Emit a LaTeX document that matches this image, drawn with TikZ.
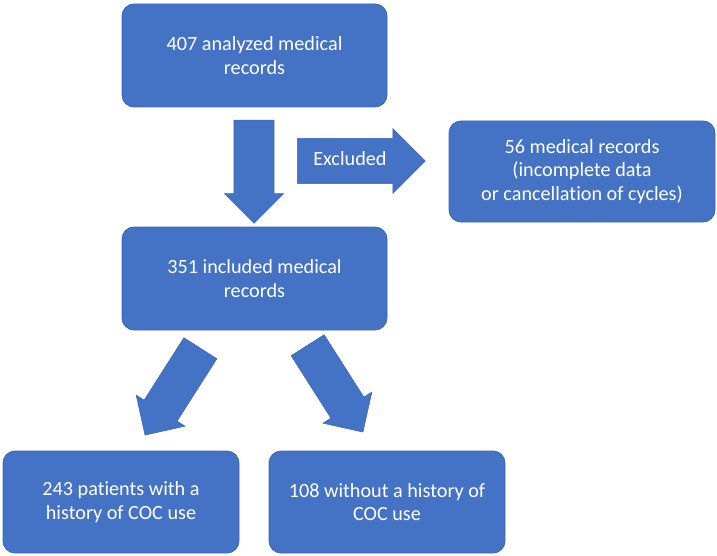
\documentclass[tikz,border=0pt]{standalone}
\usepackage{fontspec}
\setmainfont{Carlito}[Ligatures={NoCommon,NoRare}]
\usetikzlibrary{shapes.arrows}
\definecolor{boxblue}{HTML}{4472C4}
\definecolor{boxedge}{HTML}{3C67B8}
\begin{document}
\begin{tikzpicture}[x=1pt,y=-1pt,
  flowbox/.style={draw=boxedge, line width=0.8pt, fill=boxblue, rounded corners=12pt,
    text=white, align=center, font=\fontsize{20.2}{23.5}\selectfont, inner sep=0pt},
  blockarrow/.style={single arrow, fill=boxblue, draw=boxedge, line width=0.5pt,
    inner xsep=0pt, single arrow tip angle=90, anchor=tail,
    text height=0pt, text depth=0pt, text=white,
    font=\fontsize{20.2}{23.5}\selectfont}]
\useasboundingbox (0,0) rectangle (717,556);

\node[flowbox, minimum width=265pt, minimum height=103pt] (b1) at (254.5,55.5)
  {407 analyzed medical\\records};
\node[flowbox, minimum width=266pt, minimum height=101pt] (b2) at (582,171.5)
  {56 medical records\\(incomplete data\\or cancellation of cycles)};
\node[flowbox, minimum width=265pt, minimum height=103pt] (b3) at (254.5,278.5)
  {351 included medical\\records};
\node[flowbox, minimum width=236pt, minimum height=102pt] (b4) at (121,502)
  {243 patients with a\\history of COC use};
\node[flowbox, minimum width=236pt, minimum height=102pt] (b5) at (387,502)
  {108 without a history of\\COC use};

\node[blockarrow, inner ysep=15pt, minimum width=59pt, minimum height=103pt,
  rotate=-90] (a1) at (254,120) {};
\node[blockarrow, text height=13pt, text depth=4pt, inner ysep=7.5pt,
  minimum width=65pt, minimum height=128pt] (a2) at (297,161) {Excluded};
\node[blockarrow, inner ysep=14.5pt, minimum width=58pt, minimum height=103pt,
  rotate=-122.5] (a3) at (200.5,348) {};
\node[blockarrow, inner ysep=14.5pt, minimum width=58pt, minimum height=103pt,
  rotate=-57.5] (a4) at (307.5,345) {};
\end{tikzpicture}
\end{document}
